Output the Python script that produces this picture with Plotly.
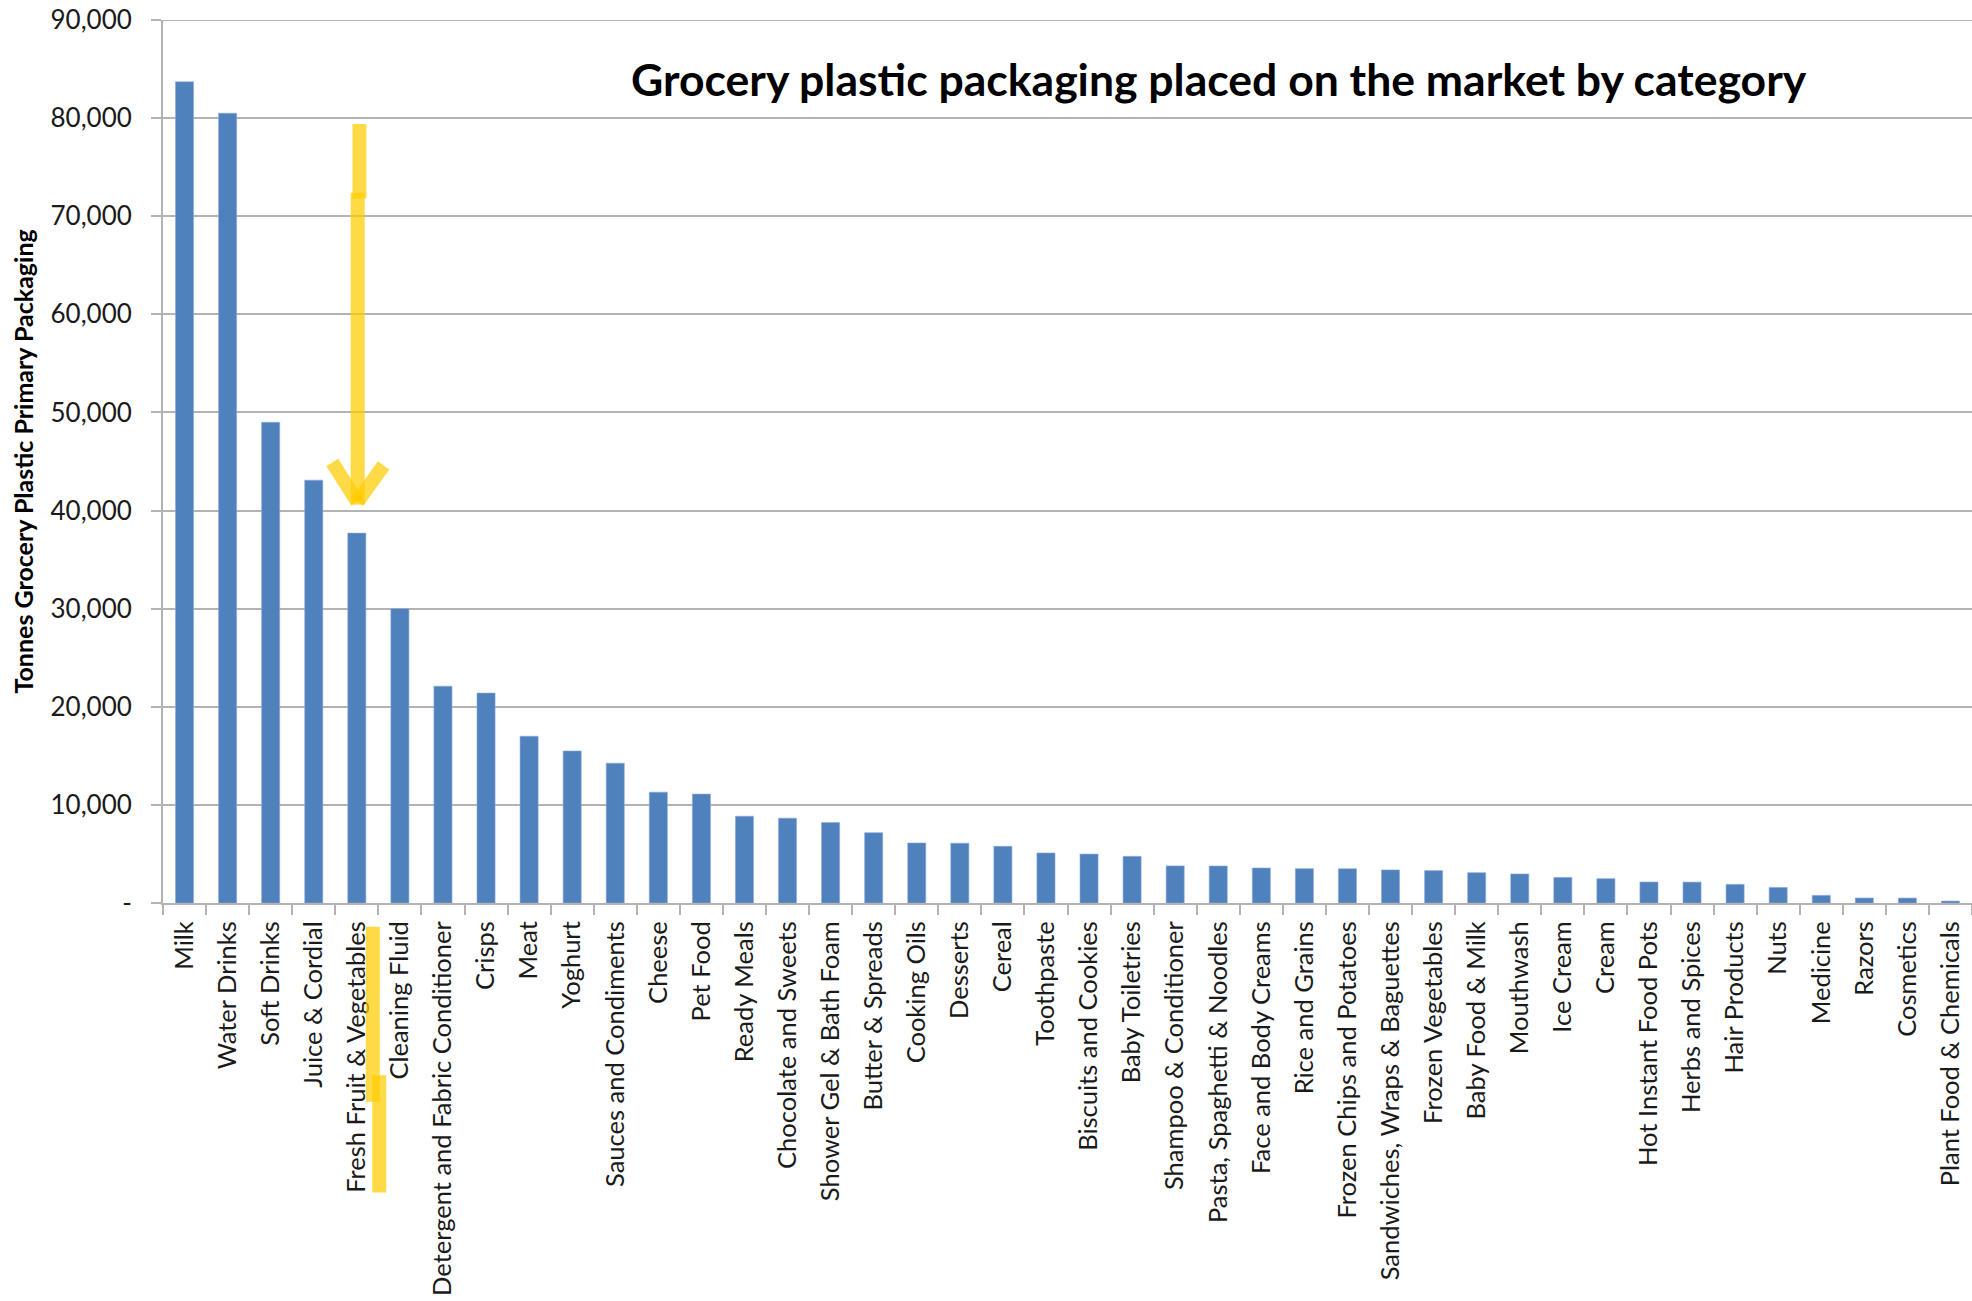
import plotly.graph_objects as go

categories = [
    "Milk", "Water Drinks", "Soft Drinks", "Juice & Cordial", "Fresh Fruit & Vegetables",
    "Cleaning Fluid", "Detergent and Fabric Conditioner", "Crisps", "Meat", "Yoghurt",
    "Sauces and Condiments", "Cheese", "Pet Food", "Ready Meals", "Chocolate and Sweets",
    "Shower Gel & Bath Foam", "Butter & Spreads", "Cooking Oils", "Desserts", "Cereal",
    "Toothpaste", "Biscuits and Cookies", "Baby Toiletries", "Shampoo & Conditioner",
    "Pasta, Spaghetti & Noodles", "Face and Body Creams", "Rice and Grains",
    "Frozen Chips and Potatoes", "Sandwiches, Wraps & Baguettes", "Frozen Vegetables",
    "Baby Food & Milk", "Mouthwash", "Ice Cream", "Cream", "Hot Instant Food Pots",
    "Herbs and Spices", "Hair Products", "Nuts", "Medicine", "Razors", "Cosmetics",
    "Plant Food & Chemicals",
]

tonnes = [
    83700, 80500, 49000, 43100, 37700,
    30000, 22100, 21400, 17000, 15500,
    14250, 11300, 11100, 8850, 8650,
    8200, 7170, 6120, 6100, 5780,
    5100, 4990, 4760, 3780,
    3770, 3570, 3500,
    3490, 3370, 3300,
    3090, 2960, 2610, 2480, 2140,
    2130, 1900, 1590, 780, 510, 500,
    200,
]

ytick_vals = [0, 10000, 20000, 30000, 40000, 50000, 60000, 70000, 80000, 90000]
ytick_text = ["-", "10,000", "20,000", "30,000", "40,000", "50,000",
              "60,000", "70,000", "80,000", "90,000"]

title_text = "Grocery plastic packaging placed on the market by category"
ytitle_text = "Tonnes Grocery Plastic Primary Packaging"

FONT = "Lato"
BAR = "#4F81BD"
GRID = "#B3B3B3"
YEL = "rgba(255,204,0,0.72)"

fig = go.Figure()
fig.add_trace(go.Bar(
    x=categories, y=tonnes,
    marker=dict(color=BAR, line=dict(color="#8EAADB", width=0.6)),
    hoverinfo="x+y",
))

shapes = []
# highlight arrow pointing to Fresh Fruit & Vegetables
shapes.append(dict(type="line", xref="x", yref="y", x0=4.06, x1=4.06, y0=79400, y1=71800,
                   line=dict(color=YEL, width=14)))
shapes.append(dict(type="line", xref="x", yref="y", x0=4.02, x1=4.02, y0=72400, y1=40600,
                   line=dict(color=YEL, width=14)))
shapes.append(dict(type="line", xref="x", yref="y", x0=3.43, x1=4.01, y0=44900, y1=40900,
                   line=dict(color=YEL, width=14)))
shapes.append(dict(type="line", xref="x", yref="y", x0=4.62, x1=4.02, y0=44600, y1=40900,
                   line=dict(color=YEL, width=14)))
# highlight stroke beside the label
shapes.append(dict(type="line", xref="x", yref="paper", x0=4.37, x1=4.37, y0=-0.027, y1=-0.225,
                   line=dict(color=YEL, width=14)))
shapes.append(dict(type="line", xref="x", yref="paper", x0=4.52, x1=4.52, y0=-0.195, y1=-0.328,
                   line=dict(color=YEL, width=14)))
# top gridline at 90,000
shapes.append(dict(type="line", xref="paper", yref="y", x0=-0.0055, x1=1, y0=90000, y1=90000,
                   line=dict(color=GRID, width=2), layer="below"))

fig.update_layout(
    width=1972, height=1301,
    margin=dict(l=163, r=0, t=20, b=398),
    paper_bgcolor="white", plot_bgcolor="white",
    showlegend=False,
    bargap=0.58,
    font=dict(family=FONT, color="#1a1a1a"),
    shapes=shapes,
    annotations=[
        dict(text="<b>" + title_text + "</b>", xref="paper", yref="paper",
             x=0.584, y=0.934, xanchor="center", yanchor="middle", showarrow=False,
             font=dict(family=FONT, size=44.5, color="black")),
        dict(text="<b>" + ytitle_text + "</b>", xref="paper", yref="paper",
             x=-0.0774, y=0.5, xanchor="center", yanchor="middle", showarrow=False,
             textangle=-90, font=dict(family=FONT, size=25, color="black")),
    ],
)

fig.update_xaxes(
    type="category", range=[-0.5, 41.5],
    tickangle=-90, tickfont=dict(family=FONT, size=25.5, color="#1a1a1a"),
    showline=True, linecolor=GRID, linewidth=2,
    ticks="outside", tickson="boundaries", ticklen=10, tickcolor=GRID, tickwidth=2,
    ticklabelstandoff=6,
    showgrid=False, automargin=False,
)
fig.update_yaxes(
    range=[0, 90000], tickvals=ytick_vals, ticktext=ytick_text,
    tickfont=dict(family=FONT, size=26, color="#1a1a1a"),
    showgrid=True, gridcolor=GRID, gridwidth=2,
    showline=True, linecolor=GRID, linewidth=2,
    ticks="outside", ticklen=10, tickcolor=GRID, tickwidth=2,
    ticklabelstandoff=14, ticklabeloverflow="allow",
    zeroline=False, automargin=False,
)

fig.write_html("out.html", config={"displayModeBar": False},
               post_script="document.body.style.margin='0';")
